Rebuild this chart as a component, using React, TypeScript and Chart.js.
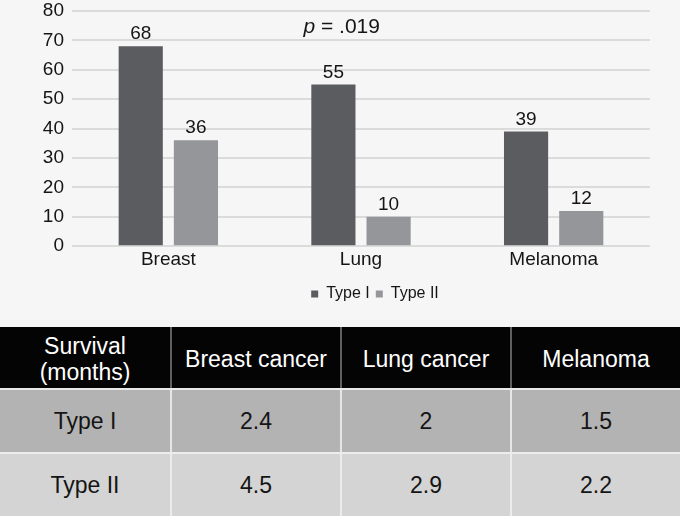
import React, { useEffect, useRef } from "react";
import { Chart, registerables } from "chart.js";

Chart.register(...registerables);

const categories = ["Breast", "Lung", "Melanoma"];
const seriesNames = ["Type I", "Type II"];
const typeIValues = [68, 55, 39];
const typeIIValues = [36, 10, 12];
const yMin = 0;
const yMax = 80;
const yStep = 10;
const pLabel = "p";
const pValue = " = .019";
const pAnchorCategory = 0.9;
const pAnchorValue = 72.6;

const tableHeader = ["Survival\n(months)", "Breast cancer", "Lung cancer", "Melanoma"];
const tableRowLabels = ["Type I", "Type II"];
const survivalTypeI = ["2.4", "2", "1.5"];
const survivalTypeII = ["4.5", "2.9", "2.2"];

const FONT = "'Liberation Sans', Arial, Helvetica, sans-serif";
const TEXT = "#151515";
const DARK = "#5b5c5f";
const LIGHT = "#959699";
const BG = "#f6f6f6";
const LEGEND_SHIFT = 14;

const labelsPlugin = {
  id: "barValueLabels",
  afterLayout(chart: any) {
    const lg = chart.legend;
    if (lg) {
      lg.left += LEGEND_SHIFT;
      lg.right += LEGEND_SHIFT;
    }
  },
  afterDatasetsDraw(chart: any) {
    const ctx = chart.ctx;
    ctx.save();
    ctx.fillStyle = TEXT;
    ctx.font = `19px ${FONT}`;
    ctx.textAlign = "center";
    ctx.textBaseline = "alphabetic";
    chart.data.datasets.forEach((ds: any, i: number) => {
      const meta = chart.getDatasetMeta(i);
      meta.data.forEach((bar: any, j: number) => {
        ctx.fillText(String(ds.data[j]), bar.x, bar.y - 7);
      });
    });
    const xs = chart.scales.x;
    const ys = chart.scales.y;
    const cx = xs.getPixelForValue(pAnchorCategory);
    const by = ys.getPixelForValue(pAnchorValue);
    ctx.font = `italic 21px ${FONT}`;
    const w1 = ctx.measureText(pLabel).width;
    ctx.font = `21px ${FONT}`;
    const w2 = ctx.measureText(pValue).width;
    const start = cx - (w1 + w2) / 2;
    ctx.textAlign = "left";
    ctx.font = `italic 21px ${FONT}`;
    ctx.fillText(pLabel, start, by);
    ctx.font = `21px ${FONT}`;
    ctx.fillText(pValue, start + w1, by);
    ctx.restore();
  },
};

function ChartBlock() {
  const ref = useRef<HTMLCanvasElement | null>(null);
  useEffect(() => {
    if (!ref.current) return;
    const chart = new Chart(ref.current, {
      type: "bar",
      data: {
        labels: categories,
        datasets: [
          {
            label: seriesNames[0],
            data: typeIValues,
            backgroundColor: DARK,
            categoryPercentage: 0.573,
            barPercentage: 0.8,
          },
          {
            label: seriesNames[1],
            data: typeIIValues,
            backgroundColor: LIGHT,
            categoryPercentage: 0.573,
            barPercentage: 0.8,
          },
        ],
      },
      options: {
        animation: false,
        responsive: false,
        maintainAspectRatio: false,
        layout: { padding: { left: 0, right: 30, top: 11, bottom: 0 } },
        plugins: {
          legend: {
            position: "bottom",
            fullSize: false,
            labels: {
              boxWidth: 7,
              boxHeight: 7,
              padding: 6,
              color: TEXT,
              font: { family: FONT, size: 16 },
            },
          },
          tooltip: { enabled: false },
        },
        scales: {
          x: {
            grid: { display: false, drawTicks: false },
            border: { display: false },
            ticks: { color: TEXT, font: { family: FONT, size: 19 }, padding: 2 },
            afterFit(s: any) {
              s.height += 7;
            },
          },
          y: {
            min: yMin,
            max: yMax,
            ticks: { stepSize: yStep, color: TEXT, font: { family: FONT, size: 19 }, padding: 8 },
            grid: { color: "#dbdbdb", lineWidth: 2, drawTicks: false },
            border: { display: false },
            afterFit(s: any) {
              s.width = 72;
              s.paddingTop = 0;
              s.paddingBottom = 0;
            },
          },
        },
      },
      plugins: [labelsPlugin],
    });
    return () => chart.destroy();
  }, []);
  return <canvas ref={ref} width={680} height={312} style={{ display: "block" }} />;
}

const cellBase: React.CSSProperties = {
  width: 170,
  boxSizing: "border-box",
  display: "flex",
  alignItems: "center",
  justifyContent: "center",
  textAlign: "center",
  fontFamily: FONT,
  fontSize: 23,
  lineHeight: "26px",
  whiteSpace: "pre-line",
};

function Row({ cells, height, bg, color, divider, shift }: any) {
  return (
    <div style={{ display: "flex", height, background: bg }}>
      {cells.map((c: string, i: number) => (
        <div
          key={i}
          style={{
            ...cellBase,
            color,
            paddingTop: shift || 0,
            borderLeft: i === 0 ? "none" : `2px solid ${divider}`,
          }}
        >
          {c}
        </div>
      ))}
    </div>
  );
}

export default function App() {
  return (
    <div style={{ width: 680, height: 516, background: BG, overflow: "hidden", position: "relative" }}>
      <style>{`body{margin:0;background:${BG};}`}</style>
      <ChartBlock />
      <div style={{ position: "absolute", left: 0, top: 327, width: 680 }}>
        <Row cells={tableHeader} height={61} bg="#040404" color="#ffffff" divider="#5e5e5e" shift={3} />
        <div style={{ height: 2, background: "#e9e9e9" }} />
        <Row cells={[tableRowLabels[0], ...survivalTypeI]} height={62} bg="#b3b3b3" color={TEXT} divider="#e6e6e6" />
        <div style={{ height: 2, background: "#ececec" }} />
        <Row cells={[tableRowLabels[1], ...survivalTypeII]} height={62} bg="#d4d4d4" color={TEXT} divider="#ececec" />
      </div>
    </div>
  );
}
